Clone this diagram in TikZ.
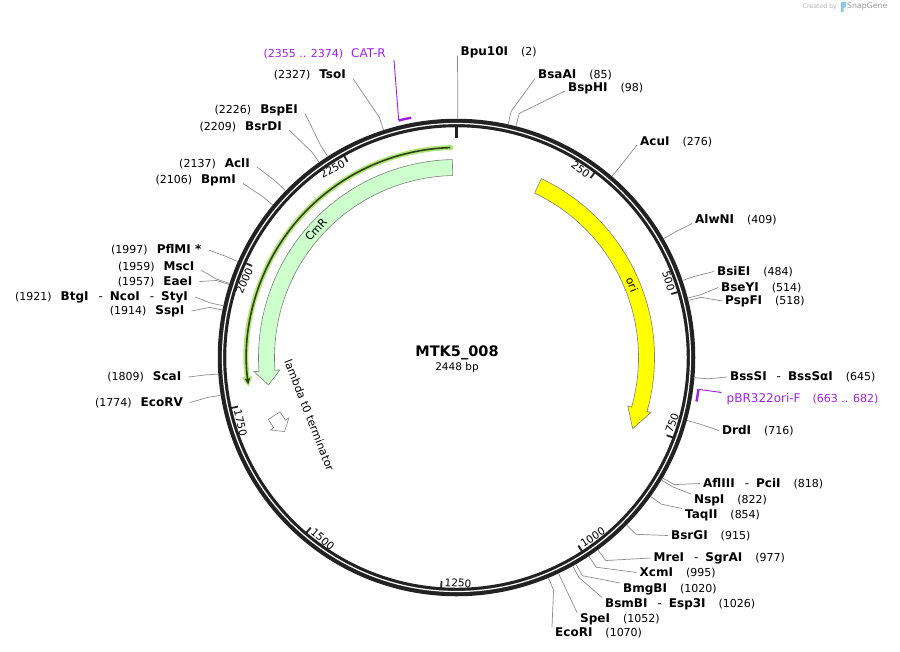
\documentclass[tikz,border=0pt]{standalone}
\usepackage{fontspec}
\setmainfont{DejaVu Sans}
\usetikzlibrary{arrows.meta,calc}

\definecolor{ringgray}{RGB}{34,34,34}
\definecolor{leadgray}{RGB}{140,140,140}
\definecolor{primer}{RGB}{160,32,240}
\definecolor{orifill}{RGB}{255,255,0}
\definecolor{cmrfill}{RGB}{204,255,204}
\definecolor{orfglow}{RGB}{176,230,118}
\definecolor{orfline}{RGB}{48,66,26}
\definecolor{featedge}{RGB}{128,128,128}
\definecolor{logoblue}{RGB}{140,200,235}

\newcommand{\enzyme}[1]{{\fontsize{12}{14}\selectfont\bfseries #1}}
\newcommand{\cutsep}{\hspace{10pt}{\mdseries -}\hspace{7pt}}

\tikzset{
  leader/.style={draw=leadgray, line width=0.7pt},
  rsite/.style={inner xsep=3pt, inner ysep=1pt, font=\fontsize{11}{13}\selectfont},
  lsite/.style={inner xsep=7pt, inner ysep=1pt, font=\fontsize{11}{13}\selectfont},
  ticklabel/.style={inner xsep=3pt, inner ysep=1pt, font=\fontsize{10.5}{12}\selectfont},
  feat/.style={draw=featedge, line width=0.6pt},
  featlabel/.style={inner sep=0pt, font=\fontsize{11}{13}\selectfont},
  primerlab/.style={text=primer, inner xsep=5pt, inner ysep=1pt, font=\fontsize{12}{14}\selectfont},
  primerbar/.style={draw=primer, line width=2.4pt},
  primerlead/.style={draw=primer, line width=0.9pt},
}

\begin{document}
\begin{tikzpicture}[x=1pt, y=-1pt]
\useasboundingbox (0,0) rectangle (900,651);
\coordinate (c) at (456.5,357.5);

% map ring, features, ticks
\begin{scope}[shift={(c)}]
\draw[ringgray, line width=8.5pt] (0,0) circle[radius=234.5];
\draw[white, line width=1.2pt] (0,0) circle[radius=234];

% ori
\draw[feat, fill=orifill] (-64.6:198) arc[start angle=-64.6, end angle=15.8, radius=198]
  -- (15.8:202) -- (22:190) -- (15.8:178) -- (15.8:182)
  arc[start angle=15.8, end angle=-64.6, radius=182] -- cycle;
\node[featlabel, rotate=-67.5] (orilab) at (-22.5:190) {ori};

% CmR
\draw[feat, fill=cmrfill] (268.8:198) arc[start angle=268.8, end angle=176, radius=198]
  -- (176:203) -- (171.7:190) -- (176:177) -- (176:182)
  arc[start angle=176, end angle=268.8, radius=182] -- cycle;
\node[featlabel, rotate=47.7] (cmrlab) at (222.3:190) {CmR};

% ORF
\draw[orfglow, line width=5pt, line cap=round, -{Triangle[length=10pt,width=10pt]}]
  (268.5:210) arc[start angle=268.5, end angle=172, radius=210];
\draw[orfline, line width=1.6pt, -{Triangle[length=6pt,width=5pt]}]
  (268.3:210) arc[start angle=268.3, end angle=172.6, radius=210];

% lambda t0 terminator
\begin{scope}[shift={(159.4:189)}, rotate=-57]
\draw[feat, fill=white] (-10,-7) -- (0,-7) -- (0,-11) -- (9,0) -- (0,11) -- (0,7) -- (-10,7) -- cycle;
\end{scope}
\node[featlabel, rotate=-68.6] (termlab) at (158.6:158) {lambda t0 terminator};

% primers
\draw[primerbar] (256.3:244) arc[start angle=256.3, end angle=259.3, radius=244];
\coordinate (catr) at (256.3:244);
\draw[primerbar] (7.5:244) arc[start angle=7.5, end angle=10.4, radius=244];
\coordinate (orif) at (7.5:244);

% ticks
\draw[ringgray, line width=2.6pt] (-90:220) -- (-90:231);
\foreach \p in {250,500,...,2250}{
  \pgfmathsetmacro{\tcw}{\p/6.8}
  \pgfmathsetmacro{\apol}{\tcw-90}
  \pgfmathtruncatemacro{\ontop}{(\tcw<90)||(\tcw>270)}
  \draw[ringgray, line width=1.8pt] (\apol:224) -- (\apol:231);
  \ifnum\ontop=1
    \pgfmathsetmacro{\rot}{-\tcw}
    \node[ticklabel, rotate=\rot, anchor=east] (tick\p) at (\apol:225) {\p};
  \else
    \pgfmathsetmacro{\rot}{180-\tcw}
    \node[ticklabel, rotate=\rot, anchor=west] (tick\p) at (\apol:225) {\p};
  \fi
}
\end{scope}

% name
\node[font=\fontsize{14.5}{17}\selectfont\bfseries] (title) at (457,352.5) {MTK5\_008};
\node[font=\fontsize{10.5}{12}\selectfont] (size) at (457,367.5) {2448 bp};

% sites, right
\foreach \p/\an/\lx/\ly/\nm in {
  2/base west/457.5/55.5/Bpu10I,
  85/base west/535/78.5/BsaAI,
  98/base west/565/91/BspHI,
  276/base west/637/145/AcuI,
  409/base west/692/223.5/AlwNI,
  484/west/714/271.5/BsiEI,
  514/west/718/287.5/BseYI,
  518/west/722/301/PspFI,
  645/west/727/377/BssSI\cutsep BssSαI,
  716/west/719/430.5/DrdI,
  818/west/700/483.5/AflIII\cutsep PciI,
  822/north west/691/494/NspI,
  854/north west/682/508.5/TaqII,
  915/west/668/535.5/BsrGI,
  977/west/650.5/558/MreI\cutsep SgrAI,
  995/west/636.5/572.5/XcmI,
  1020/north west/620/583/BmgBI,
  1026/north west/602/597.5/BsmBI\cutsep Esp3I,
  1052/north west/577/612.5/SpeI,
  1070/north west/552/627/EcoRI%
}{
  \pgfmathsetmacro{\apol}{\p/6.8-90}
  \coordinate (cut\p) at ($(c)+(\apol:239)$);
  \coordinate (bend\p) at ($(c)+(\apol:252)$);
  \node[rsite, anchor=\an] (site\p) at (\lx,\ly) {\enzyme{\nm}\hspace{13pt}(\p)};
  \draw[leader] (cut\p) -- (bend\p) -- (site\p.\an);
}

% sites, left
\foreach \p/\an/\lx/\ly/\nm in {
  2327/base east/353/78.5/TsoI,
  2226/base east/305/113.5/BspEI,
  2209/base east/289/130/BsrDI,
  2137/base east/257/167/AclI,
  2106/base east/243/183.5/BpmI,
  1997/east/208.5/250/PflMI *,
  1959/base east/201.5/270.5/MscI,
  1957/east/199.5/281.5/EaeI,
  1921/east/195/297/BtgI\cutsep NcoI\cutsep StyI,
  1914/east/191.5/311/SspI,
  1809/east/188.5/377/ScaI,
  1774/east/190/402.5/EcoRV%
}{
  \pgfmathsetmacro{\apol}{\p/6.8-90}
  \coordinate (cut\p) at ($(c)+(\apol:239)$);
  \coordinate (bend\p) at ($(c)+(\apol:252)$);
  \node[lsite, anchor=\an] (site\p) at (\lx,\ly) {(\p)\hspace{9pt}\enzyme{\nm}};
  \draw[leader] (cut\p) -- (bend\p) -- (site\p.\an);
}

% primer labels
\node[primerlab, inner xsep=8pt, anchor=south east] (catrlab) at (394,60)
  {{\fontsize{11}{13}\selectfont(2355 .. 2374)}\hspace{8pt}CAT-R};
\draw[primerlead] (catr) -- (catrlab.south east);
\node[primerlab, anchor=north west] (pbrlab) at (721.5,392.5)
  {pBR322ori-F\hspace{12pt}{\fontsize{11}{13}\selectfont(663 .. 682)}};
\draw[primerlead] (orif) -- (pbrlab.north west);

% credit
\node[font=\fontsize{6.2}{7}\selectfont, text=black!30, anchor=west, inner sep=0pt] (created) at (802.5,6.7) {Created by};
\fill[logoblue] (841,2) -- (846,2) -- (846,7) -- (843.5,8) -- (843.5,12) -- (841,12) -- cycle;
\node[font=\fontsize{7.8}{9}\selectfont, text=black!40, anchor=west, inner sep=0pt] (snapgene) at (847,6.7) {SnapGene};
\end{tikzpicture}
\end{document}
